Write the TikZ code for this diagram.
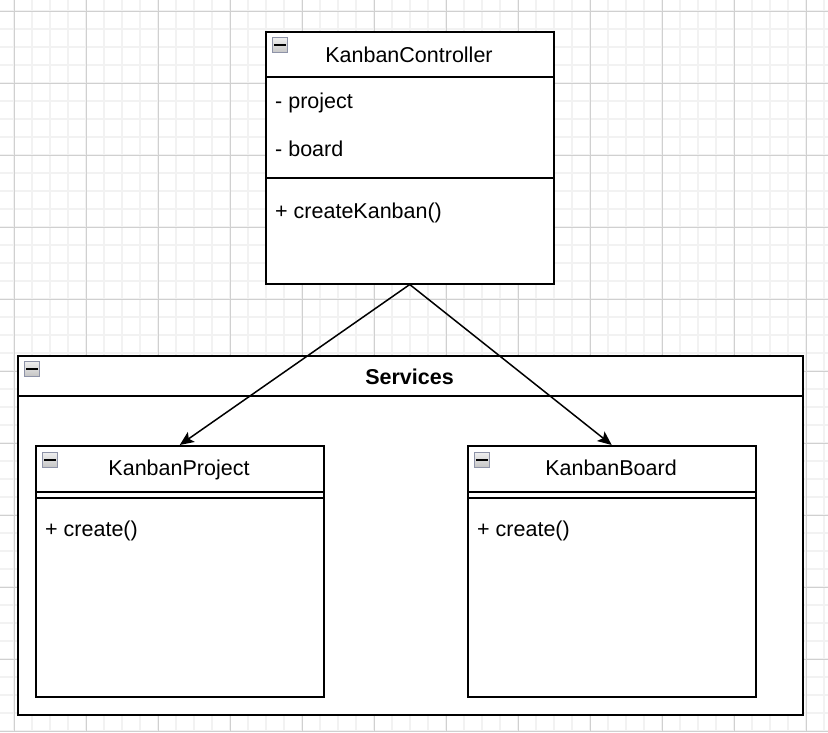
\documentclass[tikz,border=0pt]{standalone}
\usepackage{fontspec}
\setmainfont{Liberation Sans}
\usetikzlibrary{arrows.meta}
\definecolor{minorgray}{HTML}{F2F2F2}
\definecolor{majorgray}{HTML}{D0D0D0}
\definecolor{iconedge}{HTML}{8E93A8}
\tikzset{
    umlbox/.style={draw=black, line width=1.5pt, fill=white, rectangle, inner sep=0pt, anchor=north west},
    umlline/.style={draw=black, line width=1.5pt},
    collapse/.style={draw=iconedge, line width=1pt, top color=gray!12, bottom color=gray!45, rectangle, minimum size=15pt, inner sep=0pt,
        path picture={\fill[black] ([xshift=-6pt,yshift=-1pt]path picture bounding box.center) rectangle ++(12pt,2pt);}},
    member/.style={anchor=base west, inner sep=0pt, font=\fontsize{21.5}{26}\selectfont},
    title/.style={anchor=base, inner sep=0pt, font=\fontsize{21.5}{26}\selectfont},
    arr/.style={-{Stealth[length=14pt,width=12pt,inset=3pt]}, line width=1.5pt}
}
\begin{document}
\begin{tikzpicture}[x=1pt,y=-1pt]
    \useasboundingbox (0,0) rectangle (828,732);
    % grid
    \foreach \x in {14,32,...,824} \draw[minorgray, line width=1.5pt] (\x,0) -- (\x,732);
    \foreach \y in {11,29,...,731} \draw[minorgray, line width=1.5pt] (0,\y) -- (828,\y);
    \foreach \x in {14,86,...,806} \draw[majorgray, line width=0.8pt] (\x,0) -- (\x,732);
    \foreach \y in {11,83,...,731} \draw[majorgray, line width=0.8pt] (0,\y) -- (828,\y);
    % controller
    \node[umlbox, minimum width=288pt, minimum height=252pt] (ctrl) at (265,31) {};
    \draw[umlline] ([yshift=-46pt]ctrl.north west) -- ([yshift=-46pt]ctrl.north east);
    \draw[umlline] ([yshift=-147pt]ctrl.north west) -- ([yshift=-147pt]ctrl.north east);
    \node[collapse] (ctrlicon) at (280,45) {};
    \node[title] (ctrlname) at (409,62) {KanbanController};
    \node[member] (ctrlproject) at (275,108.5) {- project};
    \node[member] (ctrlboard) at (275,156) {- board};
    \node[member] (ctrlcreate) at (275,218.5) {+ createKanban()};
    % services package
    \node[umlbox, minimum width=785pt, minimum height=359pt] (services) at (17,355) {};
    \draw[umlline] ([yshift=-41pt]services.north west) -- ([yshift=-41pt]services.north east);
    \node[collapse] (servicesicon) at (31.5,368.5) {};
    \node[title, font=\fontsize{21.5}{26}\selectfont\bfseries] (servicesname) at (409.5,384) {Services};
    % project
    \node[umlbox, minimum width=288pt, minimum height=251pt] (proj) at (35,445) {};
    \draw[umlline] ([yshift=-47pt]proj.north west) -- ([yshift=-47pt]proj.north east);
    \draw[umlline] ([yshift=-53pt]proj.north west) -- ([yshift=-53pt]proj.north east);
    \node[collapse] (projicon) at (49.5,459.5) {};
    \node[title] (projname) at (179,475.5) {KanbanProject};
    \node[member] (projcreate) at (45,536.5) {+ create()};
    % board
    \node[umlbox, minimum width=288pt, minimum height=251pt] (board) at (467,445) {};
    \draw[umlline] ([yshift=-47pt]board.north west) -- ([yshift=-47pt]board.north east);
    \draw[umlline] ([yshift=-53pt]board.north west) -- ([yshift=-53pt]board.north east);
    \node[collapse] (boardicon) at (481.5,459.5) {};
    \node[title] (boardname) at (611,475.5) {KanbanBoard};
    \node[member] (boardcreate) at (477,536.5) {+ create()};
    % connectors
    \draw[arr] (ctrl.south) -- (proj.north);
    \draw[arr] (ctrl.south) -- (board.north);
\end{tikzpicture}
\end{document}
